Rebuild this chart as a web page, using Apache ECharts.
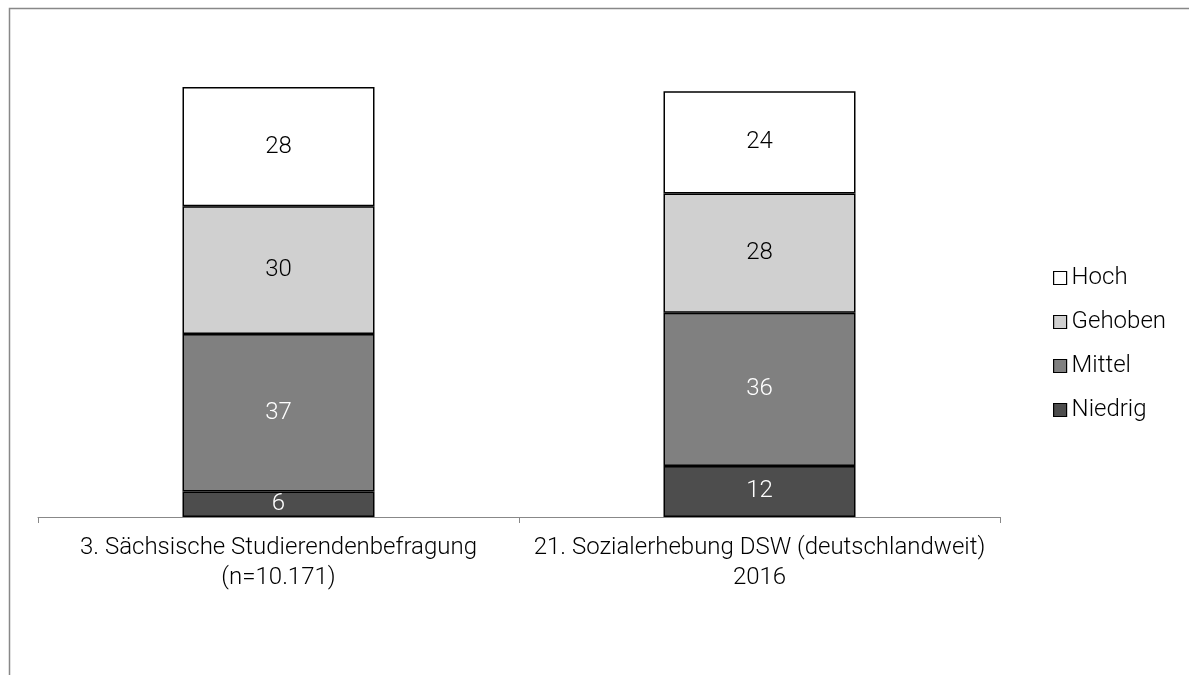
<!DOCTYPE html>
<html>
<head>
<meta charset="utf-8">
<script src="https://cdn.jsdelivr.net/npm/echarts@6/dist/echarts.min.js"></script>
<style>html,body{margin:0;padding:0;background:#fff}#c{width:1189px;height:675px}</style>
</head>
<body>
<div id="c"></div>
<script>
var categories = ['3. Sächsische Studierendenbefragung\n(n=10.171)', '21. Sozialerhebung DSW (deutschlandweit)\n2016'];
var niedrig = [6, 12];
var mittel = [37, 36];
var gehoben = [30, 28];
var hoch = [28, 24];
var legendOrder = ['Hoch', 'Gehoben', 'Mittel', 'Niedrig'];

var FONT = 'Roboto';
var WEIGHT = 300;
var TXT = '#000';
function mk(name, data, color, textColor) {
  return {
    name: name, type: 'bar', stack: 'a', data: data, barWidth: 192, clip: false,
    itemStyle: { color: color, borderColor: '#000', borderWidth: 1.5 },
    label: { show: true, position: 'inside', color: textColor, fontSize: 24, fontFamily: FONT, fontWeight: WEIGHT },
    emphasis: { disabled: true }
  };
}
var chart = echarts.init(document.getElementById('c'));
chart.setOption({
  animation: false,
  backgroundColor: '#fff',
  graphic: [{ type: 'rect', shape: { x: 9.5, y: 8.5, width: 1400, height: 900 }, style: { fill: 'none', stroke: '#888', lineWidth: 1.5 }, silent: true }],
  grid: { left: 38, right: 189, top: 91.3, bottom: 158 },
  legend: {
    orient: 'vertical', left: 1053, top: 266, padding: 0, icon: 'rect',
    data: legendOrder, itemWidth: 13, itemHeight: 13, itemGap: 20,
    textStyle: { fontSize: 24, fontFamily: FONT, fontWeight: WEIGHT, color: TXT, lineHeight: 24 },
    itemStyle: { borderColor: '#000', borderWidth: 1.2 }
  },
  xAxis: {
    type: 'category', data: categories,
    axisLine: { lineStyle: { color: '#888', width: 1 } },
    axisTick: { show: true, length: 6, lineStyle: { color: '#888' } },
    axisLabel: { fontSize: 24, fontFamily: FONT, fontWeight: WEIGHT, color: TXT, lineHeight: 30, margin: 16, interval: 0 }
  },
  yAxis: { type: 'value', min: 0, max: 100, show: false, splitLine: { show: false } },
  series: [
    mk('Niedrig', niedrig, '#4d4d4d', '#fff'),
    mk('Mittel', mittel, '#808080', '#fff'),
    mk('Gehoben', gehoben, '#d0d0d0', TXT),
    mk('Hoch', hoch, '#ffffff', TXT)
  ]
});
</script>
</body>
</html>
